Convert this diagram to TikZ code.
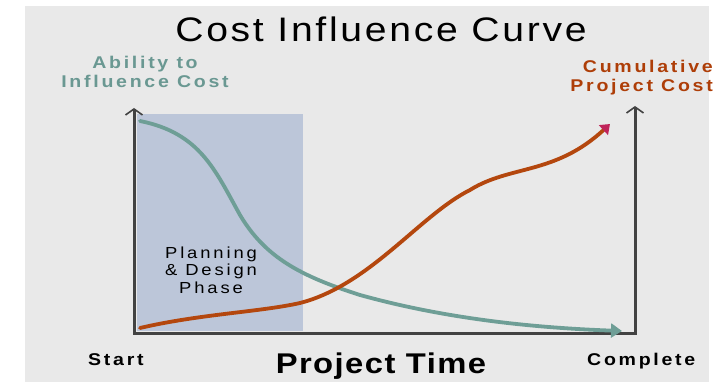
\documentclass[tikz,border=0pt]{standalone}
\usepackage{fontspec}
\setmainfont{Liberation Sans}
\newfontfamily\titlefont[LetterSpace=8,FakeStretch=1.15]{Liberation Sans}
\newfontfamily\wfont[LetterSpace=16,FakeStretch=1.15]{Liberation Sans}
\newfontfamily\pfont[LetterSpace=18,FakeStretch=1.15]{Liberation Sans}
\newfontfamily\mfont[LetterSpace=5,FakeStretch=1.15]{Liberation Sans}
\usetikzlibrary{arrows.meta}
\definecolor{bggray}{HTML}{E9E9E9}
\definecolor{phase}{HTML}{BCC6D9}
\definecolor{tealc}{HTML}{6E9E96}
\definecolor{tealtext}{HTML}{6A9892}
\definecolor{rust}{HTML}{B4470E}
\definecolor{rusttext}{HTML}{AE3E08}
\definecolor{pinkc}{HTML}{C0245A}
\definecolor{axisc}{HTML}{424242}
\tikzset{
  lbl/.style={inner sep=0pt, font={\wfont\bfseries\fontsize{17}{19}\selectfont}},
  axisline/.style={draw=axisc, line width=3pt},
  curve/.style={line width=3.8pt, line cap=round}
}
\begin{document}
\begin{tikzpicture}[x=1pt,y=-1pt]
\useasboundingbox (0,0) rectangle (715,382);
\fill[bggray] (25,6) rectangle (709,382);
% phase rectangle
\fill[phase] (137,114) rectangle (303,331);
% title
\node[anchor=base, inner sep=0pt] (title) at (381,42) {\titlefont\fontsize{34}{34}\selectfont Cost Influence Curve};
% axis labels
\node[lbl, anchor=base, align=center, text=tealtext] (ability) at (145,88) {Ability to\\Influence Cost};
\node[lbl, anchor=base east, align=right, text=rusttext] (cumul) at (713,92) {Cumulative\\Project Cost};
\node[anchor=base, align=center, inner sep=0pt, font={\pfont\fontsize{16}{17.5}\selectfont}] (phase) at (211,293) {Planning\\\& Design\\Phase};
\node[lbl, anchor=base west] (start) at (88,365) {Start};
\node[lbl, anchor=base west] (complete) at (587,365) {Complete};
\node[anchor=base, inner sep=0pt, font={\mfont\bfseries\fontsize{28.5}{28.5}\selectfont}] (ptime) at (381,373) {Project Time};
% axes
\coordinate (ltop) at (134,108);
\coordinate (lbot) at (134,333);
\coordinate (rbot) at (635,333);
\coordinate (rtop) at (635,106);
\draw[axisline, {Straight Barb[length=6pt,width=17pt,line width=1.6pt]}-{Straight Barb[length=6pt,width=17pt,line width=1.6pt]}] (ltop) -- (lbot) -- (rbot) -- (rtop);
% teal curve
\coordinate (t0) at (140,121);
\coordinate (t1) at (240,215);
\coordinate (t2) at (360,295);
\coordinate (t3) at (622,331);
\draw[curve, draw=tealc, -{Triangle[length=11pt,width=14pt]}] (t0) .. controls (200,133) and (215,170) .. (t1) .. controls (265,257) and (300,276) .. (t2) .. controls (450,320) and (540,328) .. (t3);
% orange curve
\coordinate (o0) at (140,328);
\coordinate (o1) at (300,303);
\coordinate (o2) at (470,190);
\coordinate (o3) at (610,124);
\draw[curve, draw=rust, -{Triangle[length=9pt,width=13pt,color=pinkc]}] (o0) .. controls (200,314) and (260,312) .. (o1) .. controls (370,285) and (420,215) .. (o2) .. controls (510,165) and (555,175) .. (o3);
\end{tikzpicture}
\end{document}
